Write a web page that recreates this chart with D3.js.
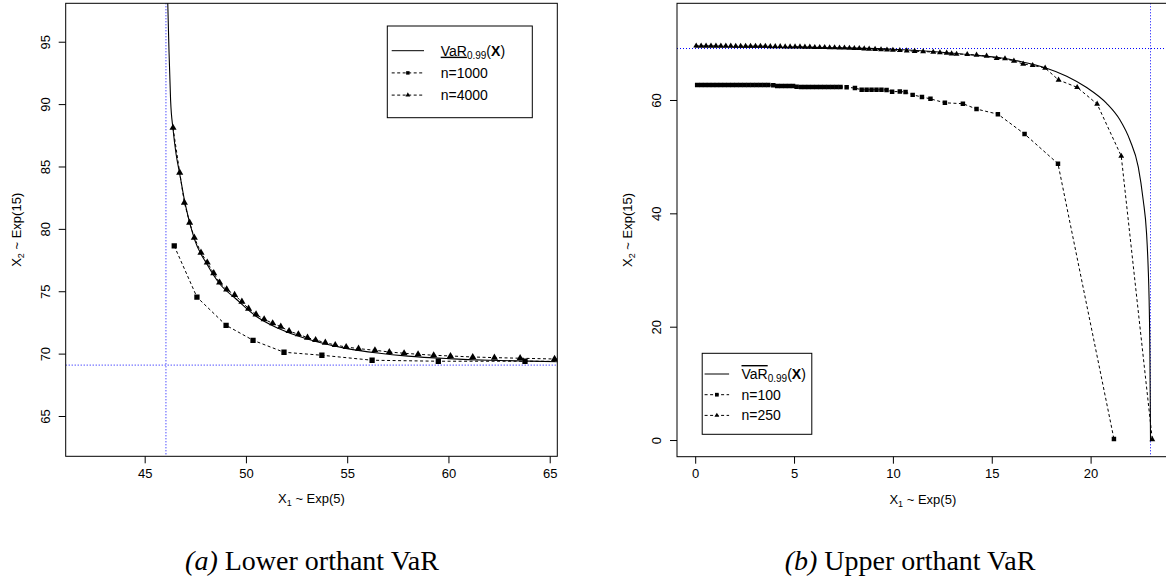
<!DOCTYPE html>
<html>
<head>
<meta charset="utf-8">
<script src="https://cdn.jsdelivr.net/npm/d3@7/dist/d3.min.js"></script>
<style>
body { margin: 0; background: #fff; }
svg text { font-family: "Liberation Sans", Arial, Helvetica, sans-serif; fill: #000; }
.caption { font-family: "Liberation Serif", "DejaVu Serif", serif; }
</style>
</head>
<body>
<div class="graphic"></div>
<script>
// ---- panel (a): lower orthant VaR ----
var lowXTicks = [45, 50, 55, 60, 65]
var lowYTicks = [65, 70, 75, 80, 85, 90, 95]
var lowMargX1 = 46.05   // VaR of X1 alone
var margX2 = 69.08      // VaR of X2 alone
var lowCurve = [[46.12, 99.5], [46.14, 98.1], [46.2, 94.3], [46.28, 90.3], [46.4, 88.0], [46.55, 86.0],
    [46.73, 84.4], [47.0, 82.0], [47.45, 79.2], [48.1, 77.1], [48.7, 75.6], [49.5, 74.4], [50.5, 73.0],
    [51.5, 72.1], [52.5, 71.45], [53.5, 70.95], [55, 70.4], [56.5, 70.05], [58, 69.8], [60, 69.6],
    [62, 69.47], [64, 69.4], [65.5, 69.35]]
var lowN1000 = [[46.46, 78.63], [47.58, 74.53], [49.02, 72.27], [50.35, 71.07], [51.88, 70.11],
    [53.75, 69.87], [56.23, 69.47], [59.5, 69.39], [63.78, 69.39], [66.5, 69.38]]
var lowN4000 = [[46.4, 88.1], [46.73, 84.5], [46.96, 82.1], [47.22, 80.5], [47.45, 79.3], [47.78, 78.1],
    [48.09, 77.3], [48.41, 76.45], [48.7, 75.7], [49.05, 75.15], [49.44, 74.7], [49.8, 74.16],
    [50.13, 73.6], [50.5, 73.15], [50.9, 72.75], [51.32, 72.43], [51.72, 72.16], [52.13, 71.81],
    [52.59, 71.55], [53.04, 71.28], [53.44, 71.09], [53.92, 70.88], [54.41, 70.69], [54.95, 70.53],
    [55.56, 70.4], [56.37, 70.27], [57.08, 70.13], [57.81, 70.03], [58.5, 69.95], [59.27, 69.87],
    [60.1, 69.81], [61.2, 69.73], [62.27, 69.68], [63.54, 69.63], [65.24, 69.57], [66.5, 69.55]]

// ---- panel (b): upper orthant VaR ----
var upXTicks = [0, 5, 10, 15, 20]
var upYTicks = [0, 20, 40, 60]
var upMargX1 = 23.03
var upCurve = [[0, 69.35], [4, 69.3], [8, 69.15], [10, 68.95], [12, 68.55], [14, 67.95], [15.5, 67.4],
    [16.5, 66.75], [17.7, 65.7], [18.79, 64.2], [19.8, 62.2], [20.81, 59.4], [21.48, 56.5], [21.99, 52.9],
    [22.41, 48.2], [22.66, 42.35], [22.83, 36.5], [22.91, 30.6], [22.96, 24.7], [23.0, 15], [23.02, 5],
    [23.03, 0]]
var upN100 = [[0.1, 62.65], [0.3, 62.65], [0.5, 62.65], [0.7, 62.65], [0.9, 62.65], [1.1, 62.65],
    [1.3, 62.65], [1.5, 62.65], [1.7, 62.65], [1.9, 62.65], [2.1, 62.65], [2.3, 62.65], [2.5, 62.65],
    [2.7, 62.65], [2.9, 62.65], [3.1, 62.65], [3.3, 62.65], [3.5, 62.65], [3.7, 62.65], [3.95, 62.6],
    [4.15, 62.47], [4.35, 62.47], [4.55, 62.47], [4.75, 62.47], [4.95, 62.47], [5.13, 62.35],
    [5.35, 62.3], [5.55, 62.3], [5.75, 62.3], [5.95, 62.3], [6.15, 62.3], [6.35, 62.3], [6.55, 62.3],
    [6.75, 62.3], [6.95, 62.3], [7.15, 62.3], [7.35, 62.3], [7.66, 62.25], [8.08, 62.1], [8.42, 61.8],
    [8.67, 61.8], [8.92, 61.8], [9.17, 61.8], [9.42, 61.8], [9.68, 61.76], [9.96, 61.46], [10.35, 61.5],
    [10.64, 61.4], [11.0, 60.9], [11.47, 60.53], [11.9, 60.2], [12.63, 59.5], [13.54, 59.35],
    [14.23, 58.4], [15.31, 57.5], [16.66, 54.0], [18.35, 48.76], [21.18, 0.2]]
var upN250 = [[0.05, 69.55], [0.3, 69.55], [0.55, 69.55], [0.8, 69.55], [1.05, 69.55], [1.3, 69.55],
    [1.55, 69.55], [1.8, 69.55], [2.05, 69.5], [2.3, 69.5], [2.55, 69.5], [2.8, 69.5], [3.05, 69.5],
    [3.3, 69.5], [3.55, 69.5], [3.8, 69.45], [4.05, 69.45], [4.3, 69.45], [4.55, 69.4], [4.8, 69.4],
    [5.05, 69.4], [5.3, 69.4], [5.55, 69.35], [5.8, 69.35], [6.05, 69.3], [6.3, 69.3], [6.55, 69.3],
    [6.8, 69.25], [7.05, 69.25], [7.3, 69.2], [7.55, 69.2], [7.8, 69.15], [8.05, 69.1], [8.3, 69.1],
    [8.55, 69.05], [8.8, 69.0], [9.1, 68.95], [9.4, 68.9], [9.7, 68.85], [10.0, 68.8], [10.35, 68.75],
    [10.7, 68.7], [11.1, 68.6], [11.53, 68.55], [12.04, 68.45], [12.38, 68.35], [12.72, 68.29],
    [12.97, 68.17], [13.22, 68.11], [13.76, 68.05], [14.23, 67.94], [14.74, 67.76], [15.25, 67.35],
    [15.67, 67.29], [16.12, 66.88], [16.59, 66.35], [17.07, 66.12], [17.7, 65.64], [18.38, 63.53],
    [19.32, 62.23], [20.33, 59.29], [21.55, 50.11], [23.12, 0.1]]

var captions = ['Lower orthant VaR', 'Upper orthant VaR']

var svg = d3.select('.graphic').append('svg')
    .attr('width', 1166)
    .attr('height', 585)

function drawPanel(cfg) {
    var x = d3.scaleLinear().domain(cfg.xDomain).range([cfg.left, cfg.right])
    var y = d3.scaleLinear().domain(cfg.yDomain).range([cfg.bottom, cfg.top])
    var g = svg.append('g')

    g.append('clipPath').attr('id', cfg.id)
        .append('rect')
        .attr('x', cfg.left).attr('y', cfg.top)
        .attr('width', cfg.right - cfg.left).attr('height', cfg.bottom - cfg.top)

    var plot = g.append('g').attr('clip-path', 'url(#' + cfg.id + ')')

    // marginal VaR reference lines
    plot.append('line')
        .attr('x1', x(cfg.vline)).attr('x2', x(cfg.vline))
        .attr('y1', cfg.top).attr('y2', cfg.bottom)
        .attr('stroke', '#0000ff').attr('stroke-width', 1).attr('stroke-dasharray', '1,2')
    plot.append('line')
        .attr('x1', cfg.left).attr('x2', cfg.right)
        .attr('y1', y(cfg.hline)).attr('y2', y(cfg.hline))
        .attr('stroke', '#0000ff').attr('stroke-width', 1).attr('stroke-dasharray', '1,2')

    var line = d3.line().x(function(d) { return x(d[0]) }).y(function(d) { return y(d[1]) })

    plot.append('path')
        .datum(cfg.curve)
        .attr('d', line.curve(d3.curveMonotoneX))
        .attr('fill', 'none').attr('stroke', '#000').attr('stroke-width', 1.1)

    line.curve(d3.curveLinear)
    cfg.series.forEach(function(s) {
        plot.append('path')
            .datum(s.data)
            .attr('d', line)
            .attr('fill', 'none').attr('stroke', '#000').attr('stroke-width', 1)
            .attr('stroke-dasharray', '3,2.5')
        var sym = d3.symbol().type(s.type).size(s.size)
        plot.selectAll('.pt-' + s.name)
            .data(s.data)
            .enter().append('path')
            .attr('class', 'pt-' + s.name)
            .attr('d', sym)
            .attr('transform', function(d) { return 'translate(' + x(d[0]) + ',' + y(d[1]) + ')' })
            .attr('fill', '#000')
    })

    // axes, R style
    var xAxis = d3.axisBottom(x).tickValues(cfg.xTicks).tickSize(7).tickPadding(5).tickSizeOuter(0)
    var xg = g.append('g')
        .attr('transform', 'translate(0,' + cfg.bottom + ')')
        .call(xAxis)
    xg.select('.domain').remove()
    xg.selectAll('text').style('font-size', '13px')

    var yAxis = d3.axisLeft(y).tickValues(cfg.yTicks).tickSize(7).tickSizeOuter(0)
    var yg = g.append('g')
        .attr('transform', 'translate(' + cfg.left + ',0)')
        .call(yAxis)
    yg.select('.domain').remove()
    yg.selectAll('text')
        .attr('x', null).attr('dy', null)
        .attr('text-anchor', 'middle')
        .attr('transform', 'translate(-16,0) rotate(-90)')
        .style('font-size', '13px')
    g.selectAll('.tick line').attr('stroke', '#000')

    g.append('rect')
        .attr('x', cfg.left).attr('y', cfg.top)
        .attr('width', cfg.right - cfg.left).attr('height', cfg.bottom - cfg.top)
        .attr('fill', 'none').attr('stroke', '#000').attr('stroke-width', 1)

    var cx = (cfg.left + cfg.right) / 2
    var xt = g.append('text')
        .attr('x', cx).attr('y', cfg.bottom + 47)
        .attr('text-anchor', 'middle').style('font-size', '13px')
    xt.append('tspan').text('X')
    xt.append('tspan').attr('dy', 3).style('font-size', '9px').text('1')
    xt.append('tspan').attr('dy', -3).text(' ~ Exp(5)')

    var cy = (cfg.top + cfg.bottom) / 2
    var yt = g.append('text')
        .attr('transform', 'translate(' + (cfg.left - 45) + ',' + cy + ') rotate(-90)')
        .attr('text-anchor', 'middle').style('font-size', '13px')
    yt.append('tspan').text('X')
    yt.append('tspan').attr('dy', 3).style('font-size', '9px').text('2')
    yt.append('tspan').attr('dy', -3).text(' ~ Exp(15)')

    drawLegend(g, cfg.legend)

    var cap = svg.append('text')
        .attr('class', 'caption')
        .attr('x', cfg.capX).attr('y', 570)
        .attr('text-anchor', 'middle')
        .style('font-size', '28px')
    cap.append('tspan').style('font-style', 'italic').text('(' + cfg.letter + ')')
    cap.append('tspan').text(' ' + cfg.caption)
}

function drawLegend(g, lg) {
    g.append('rect')
        .attr('x', lg.x0).attr('y', lg.y0)
        .attr('width', lg.x1 - lg.x0).attr('height', lg.y1 - lg.y0)
        .attr('fill', '#fff').attr('stroke', '#000').attr('stroke-width', 1)

    lg.rows.forEach(function(r, i) {
        var yy = lg.firstY + i * lg.step
        g.append('line')
            .attr('x1', lg.lineX0).attr('x2', lg.lineX1)
            .attr('y1', yy).attr('y2', yy)
            .attr('stroke', '#000').attr('stroke-width', 1)
            .attr('stroke-dasharray', r.dashed ? '3,2.5' : null)
        if (r.type) {
            g.append('path')
                .attr('d', d3.symbol().type(r.type).size(r.size)())
                .attr('transform', 'translate(' + (lg.lineX0 + lg.lineX1) / 2 + ',' + yy + ')')
                .attr('fill', '#000')
        }
        var t = g.append('text')
            .attr('x', lg.textX).attr('y', yy + 5)
            .style('font-size', '14px')
        if (r.label) {
            t.text(r.label)
        } else {
            t.append('tspan').style('text-decoration', lg.deco).text('VaR')
            t.append('tspan').attr('dy', 3).style('font-size', '10px').text('0.99')
            t.append('tspan').attr('dy', -3).text('(')
            t.append('tspan').style('font-weight', 'bold').text('X')
            t.append('tspan').text(')')
        }
    })
}

drawPanel({
    id: 'clipA', letter: 'a', caption: captions[0], capX: 312,
    left: 65.7, right: 557.3, top: 3.3, bottom: 456.3,
    xDomain: [41.1, 65.375], yDomain: [61.77, 98.08],
    xTicks: lowXTicks, yTicks: lowYTicks,
    vline: lowMargX1, hline: margX2,
    curve: lowCurve,
    series: [
        { name: 'n1000', data: lowN1000, type: d3.symbolSquare, size: 28 },
        { name: 'n4000', data: lowN4000, type: d3.symbolTriangle, size: 22 }
    ],
    legend: {
        x0: 387.3, y0: 26, x1: 532.3, y1: 117.7,
        lineX0: 391.7, lineX1: 424, textX: 440.7, firstY: 50.7, step: 22.2,
        deco: 'underline',
        rows: [
            { dashed: false },
            { dashed: true, label: 'n=1000', type: d3.symbolSquare, size: 12 },
            { dashed: true, label: 'n=4000', type: d3.symbolTriangle, size: 10 }
        ]
    }
})

drawPanel({
    id: 'clipB', letter: 'b', caption: captions[1], capX: 910,
    left: 677, right: 1168.7, top: 3.3, bottom: 456.7,
    xDomain: [-0.92, 23.95], yDomain: [-2.94, 77.06],
    xTicks: upXTicks, yTicks: upYTicks,
    vline: upMargX1, hline: margX2,
    curve: upCurve,
    series: [
        { name: 'n100', data: upN100, type: d3.symbolSquare, size: 20 },
        { name: 'n250', data: upN250, type: d3.symbolTriangle, size: 15 }
    ],
    legend: {
        x0: 702.2, y0: 353.3, x1: 811.8, y1: 434.3,
        lineX0: 704.6, lineX1: 729.1, textX: 741.5, firstY: 374, step: 20.7,
        deco: 'overline',
        rows: [
            { dashed: false },
            { dashed: true, label: 'n=100', type: d3.symbolSquare, size: 14 },
            { dashed: true, label: 'n=250', type: d3.symbolTriangle, size: 10 }
        ]
    }
})
</script>
</body>
</html>
